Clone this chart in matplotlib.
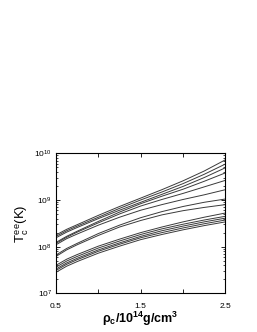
import matplotlib
matplotlib.use("Agg")
import matplotlib.pyplot as plt
import numpy as np

plt.rcParams["font.family"] = "Liberation Sans"
plt.rcParams["mathtext.fontset"] = "custom"
plt.rcParams["mathtext.rm"] = "Liberation Sans"
plt.rcParams["mathtext.it"] = "Liberation Sans"
plt.rcParams["mathtext.bf"] = "Liberation Sans:bold"

# central density (10^14 g/cm^3)
rho = [0.5, 0.625, 0.75, 1.0, 1.25, 1.5, 1.75, 2.0, 2.25, 2.5]

# log10 of T_c^ee (K), top curve first
logT_a1 = [8.25, 8.37, 8.47, 8.67, 8.86, 9.04, 9.22, 9.41, 9.62, 9.86]
logT_a2 = [8.22, 8.34, 8.44, 8.63, 8.82, 9.00, 9.17, 9.35, 9.55, 9.77]
logT_a3 = [8.19, 8.31, 8.41, 8.60, 8.78, 8.95, 9.12, 9.29, 9.48, 9.69]
logT_b1 = [8.09, 8.22, 8.33, 8.54, 8.74, 8.92, 9.08, 9.23, 9.40, 9.58]
logT_b2 = [8.07, 8.20, 8.31, 8.51, 8.70, 8.87, 9.01, 9.14, 9.28, 9.42]
logT_b3 = [8.04, 8.17, 8.27, 8.46, 8.63, 8.78, 8.90, 9.01, 9.11, 9.22]
logT_c1 = [7.82, 7.96, 8.07, 8.28, 8.46, 8.62, 8.75, 8.86, 8.95, 9.02]
logT_c2 = [7.79, 7.93, 8.04, 8.24, 8.42, 8.56, 8.68, 8.77, 8.84, 8.90]
logT_d1 = [7.60, 7.73, 7.83, 8.01, 8.16, 8.30, 8.42, 8.53, 8.63, 8.72]
logT_d2 = [7.56, 7.69, 7.79, 7.97, 8.12, 8.26, 8.38, 8.48, 8.57, 8.65]
logT_d3 = [7.52, 7.65, 7.75, 7.93, 8.08, 8.22, 8.34, 8.44, 8.53, 8.61]
logT_d4 = [7.49, 7.62, 7.72, 7.90, 8.05, 8.19, 8.30, 8.40, 8.49, 8.57]
logT_d5 = [7.45, 7.58, 7.68, 7.86, 8.01, 8.15, 8.26, 8.36, 8.45, 8.53]

curves = [logT_a1, logT_a2, logT_a3, logT_b1, logT_b2, logT_b3, logT_c1,
          logT_c2, logT_d1, logT_d2, logT_d3, logT_d4, logT_d5]

x_ticks = [0.5, 1.0, 1.5, 2.0, 2.5]
x_ticklabels = ["0.5", "", "1.5", "", "2.5"]
y_ticks = [1e7, 1e8, 1e9, 1e10]

fig = plt.figure(figsize=(2.57, 3.32), dpi=100)
ax = fig.add_axes([0.218, 0.1166, 0.659, 0.4217])

for c in curves:
    ax.plot(rho, 10 ** np.array(c), color="#3a3a3a", lw=0.7)

ax.set_yscale("log")
ax.set_xlim(0.5, 2.5)
ax.set_ylim(1e7, 1e10)
ax.set_xticks(x_ticks)
ax.set_xticklabels(x_ticklabels)
ax.set_yticks(y_ticks)
ax.set_yticklabels([r"$10^{7}$", r"$10^{8}$", r"$10^{9}$", r"$10^{10}$"])
ax.tick_params(which="both", direction="in", top=True, right=True,
               labelsize=6, pad=3)
ax.tick_params(axis="x", pad=7)
ax.tick_params(which="major", length=3, width=0.6)
ax.tick_params(which="minor", length=1.5, width=0.5)
for s in ax.spines.values():
    s.set_linewidth(0.8)

ax.set_ylabel(r"$T_c^{ee}$(K)", fontsize=9.5, labelpad=2)
ax.set_xlabel(r"$\mathbf{\rho_c/10^{14}g/cm^3}$", fontsize=9, labelpad=0)

fig.savefig("out.png", dpi=100)
